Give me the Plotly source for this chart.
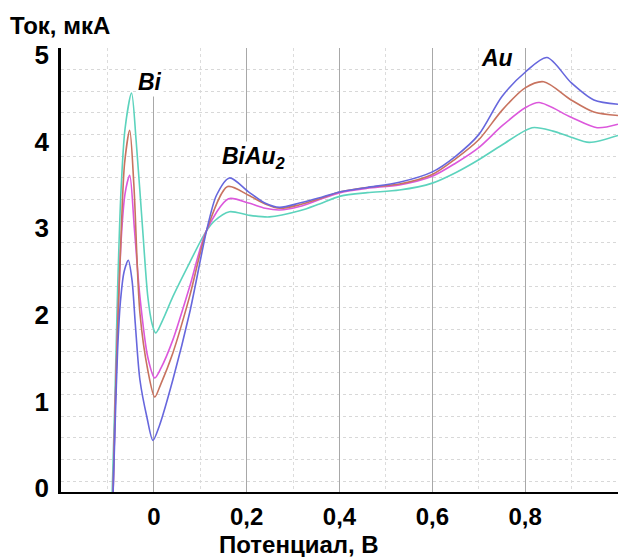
import plotly.graph_objects as go

# ---- data ----
blue_x = [-0.088, -0.083, -0.078, -0.072, -0.064, -0.055, -0.047, -0.040, -0.030, -0.015, -0.002,
          0.012, 0.041, 0.077, 0.114, 0.135, 0.163, 0.204, 0.239, 0.271, 0.314, 0.357,
          0.402, 0.46, 0.529, 0.6, 0.65, 0.7, 0.75, 0.8, 0.847, 0.899, 0.948, 1.0]
blue_y = [-0.1, 0.8, 1.6, 2.15, 2.5, 2.63, 2.4, 1.9, 1.25, 0.82, 0.55,
          0.72, 1.25, 2.02, 2.98, 3.38, 3.58, 3.42, 3.29, 3.24, 3.29, 3.35,
          3.42, 3.47, 3.53, 3.65, 3.83, 4.08, 4.52, 4.80, 4.97, 4.68, 4.48, 4.43]

red_x = [-0.088, -0.083, -0.077, -0.07, -0.063, -0.052, -0.043, -0.030, -0.013, 0.002,
         0.015, 0.041, 0.077, 0.114, 0.159, 0.204, 0.24, 0.271, 0.314,
         0.357, 0.402, 0.46, 0.529, 0.6, 0.65, 0.7, 0.75, 0.8, 0.84, 0.899, 0.948, 1.0]
red_y = [-0.1, 1.0, 2.0, 3.0, 3.75, 4.13, 3.5, 2.02, 1.36, 1.05,
         1.2, 1.56, 2.21, 2.98, 3.48, 3.38, 3.28, 3.23, 3.27,
         3.34, 3.42, 3.47, 3.51, 3.62, 3.80, 4.02, 4.36, 4.62, 4.69, 4.48, 4.34, 4.30]

magenta_x = [-0.088, -0.083, -0.077, -0.07, -0.062, -0.052, -0.042, -0.030, -0.013, 0.002,
             0.015, 0.041, 0.077, 0.114, 0.161, 0.204, 0.24, 0.271, 0.314, 0.357,
             0.402, 0.46, 0.529, 0.6, 0.65, 0.7, 0.75, 0.8, 0.83, 0.899, 0.955, 1.0]
magenta_y = [-0.1, 1.0, 2.0, 2.9, 3.4, 3.61, 3.0, 2.21, 1.51, 1.27,
             1.38, 1.71, 2.32, 2.98, 3.34, 3.29, 3.23, 3.21, 3.25, 3.33,
             3.41, 3.46, 3.50, 3.60, 3.75, 3.93, 4.18, 4.39, 4.45, 4.28, 4.16, 4.20]

cyan_x = [-0.09, -0.084, -0.078, -0.071, -0.062, -0.048, -0.038, -0.024, -0.013,
          -0.004, 0.004, 0.02, 0.041, 0.077, 0.11, 0.13, 0.163, 0.204, 0.249, 0.314, 0.357,
          0.402, 0.46, 0.529, 0.6, 0.65, 0.7, 0.75, 0.815, 0.86, 0.899, 0.938, 1.0]
cyan_y = [-0.1, 1.0, 2.3, 3.4, 4.15, 4.56, 4.0, 2.98, 2.21,
          1.9, 1.79, 1.95, 2.21, 2.60, 2.94, 3.08, 3.19, 3.15, 3.13, 3.20, 3.28,
          3.37, 3.41, 3.44, 3.52, 3.64, 3.79, 3.96, 4.16, 4.12, 4.05, 3.99, 4.07]

x_tick_vals = [0, 0.2, 0.4, 0.6, 0.8]
x_tick_text = ["0", "0,2", "0,4", "0,6", "0,8"]
y_tick_vals = [0, 1, 2, 3, 4, 5]
y_tick_text = ["0", "1", "2", "3", "4", "5"]

x_title = "Потенциал, В"
y_title = "Ток, мкА"
peak_labels = ["<i>Bi</i>", "<i>BiAu<sub>2</sub></i>", "<i>Au</i>"]
peak_x = [-0.009, 0.215, 0.739]
peak_y = [4.80, 3.82, 4.97]
peak_box_h = [46, None, None]

series = [
    (cyan_x, cyan_y, "#5cd3bd"),
    (magenta_x, magenta_y, "#dc58dc"),
    (red_x, red_y, "#c8735f"),
    (blue_x, blue_y, "#6767dd"),
]

FONT = "Liberation Sans"

fig = go.Figure()
for xs, ys, col in series:
    fig.add_trace(go.Scatter(x=xs, y=ys, mode="lines",
                             line=dict(color=col, width=1.6, shape="spline", smoothing=0.8),
                             showlegend=False, hoverinfo="skip"))

fig.update_layout(
    width=618, height=557,
    margin=dict(l=61, r=0, t=48, b=65, autoexpand=False),
    paper_bgcolor="white", plot_bgcolor="white",
    font=dict(family=FONT, color="black"),
    showlegend=False,
)

fig.update_xaxes(
    range=[-0.2, 1.0], automargin=False,
    tickvals=x_tick_vals, ticktext=x_tick_text,
    tickfont=dict(family=FONT, size=24, weight="bold", color="black"),
    showgrid=True, gridcolor="#a8a8a8", gridwidth=1,
    minor=dict(dtick=0.1, tick0=0, showgrid=True, gridcolor="#dcdcdc", griddash="dot", gridwidth=1),
    showline=True, linecolor="black", linewidth=2,
    zeroline=False, ticks="", ticklabelstandoff=2,
)
fig.update_yaxes(
    range=[-0.046, 5.08], automargin=False,
    tickvals=y_tick_vals, ticktext=y_tick_text,
    tickfont=dict(family=FONT, size=26, weight="bold", color="black"),
    showgrid=False,
    minor=dict(dtick=0.25, tick0=0.08, showgrid=True, gridcolor="#d8d8d8", griddash="dot", gridwidth=1),
    showline=True, linecolor="black", linewidth=2.5,
    zeroline=False, ticks="", ticklabelstandoff=4,
)

# axis titles
fig.add_annotation(text=y_title, xref="paper", yref="paper", x=-0.096, y=1.05,
                   xanchor="left", yanchor="middle", showarrow=False,
                   font=dict(family=FONT, size=24, weight="bold", color="black"))
fig.add_annotation(text=x_title, xref="paper", yref="paper", x=0.427, y=-0.118,
                   xanchor="center", yanchor="middle", showarrow=False,
                   font=dict(family=FONT, size=24, weight="bold", color="black"))

# peak labels (white boxes hide the grid behind them, as in the reference)
for t, px, py, bh in zip(peak_labels, peak_x, peak_y, peak_box_h):
    kw = dict(height=bh, valign="bottom") if bh else {}
    fig.add_annotation(text=t, x=px, y=py, xref="x", yref="y", showarrow=False,
                       xanchor="center", yanchor="middle", bgcolor="white", borderpad=1,
                       font=dict(family=FONT, size=23, weight="bold", color="black"), **kw)

fig.write_html("out.html", config={"displayModeBar": False},
               post_script="document.body.style.margin='0px';document.body.style.padding='0px';")
